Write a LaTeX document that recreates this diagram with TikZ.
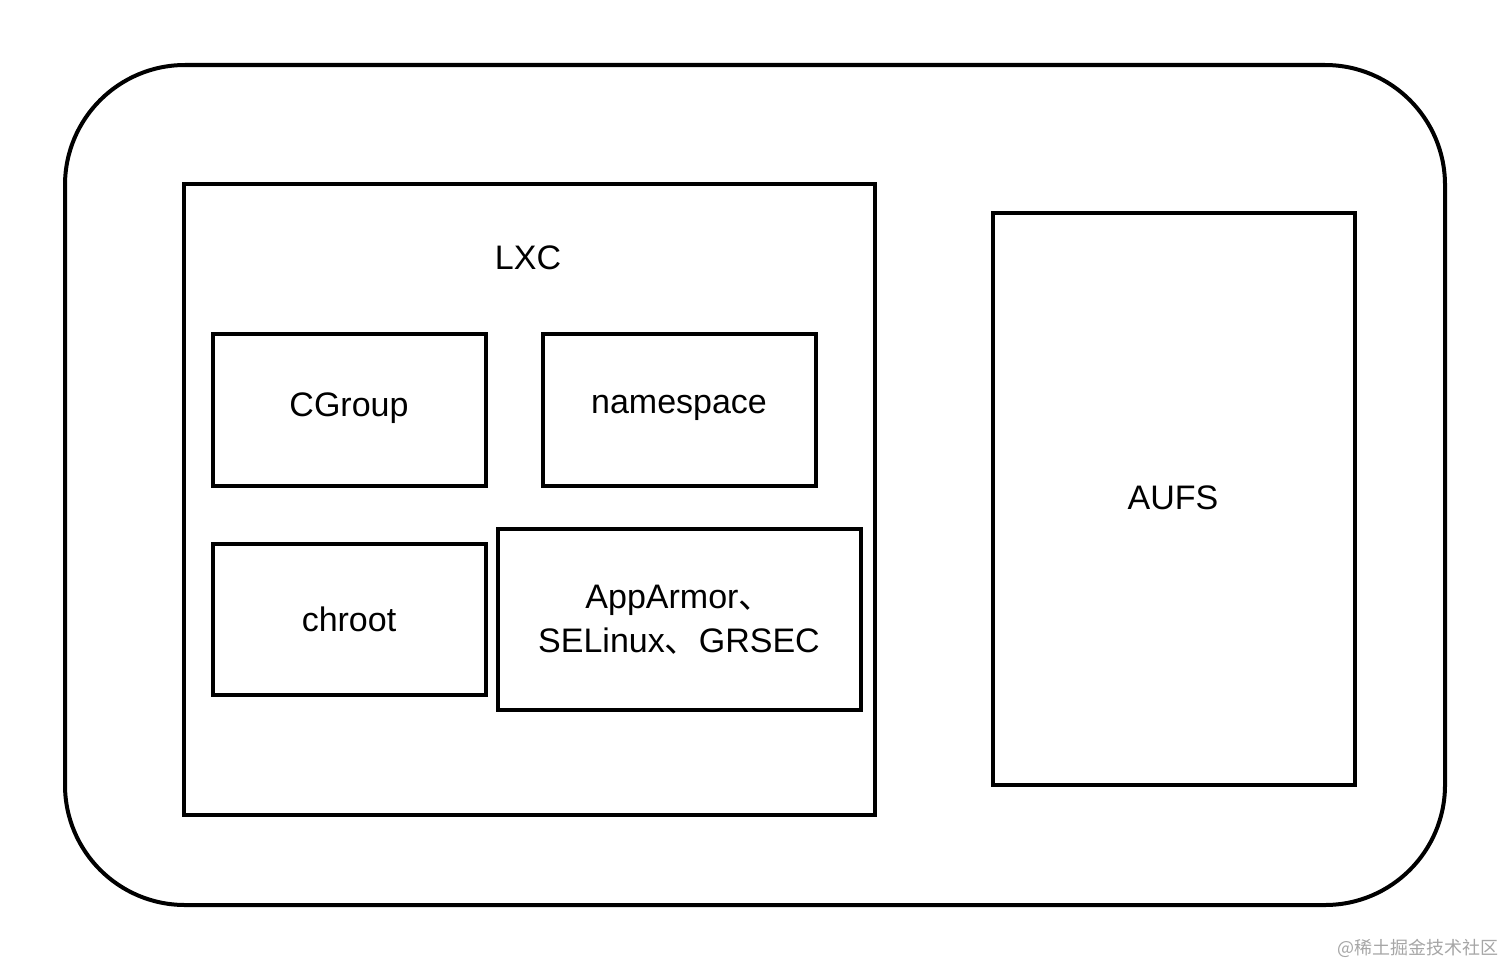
\documentclass[tikz,border=0pt]{standalone}
\usepackage{fontspec}
\setmainfont{Liberation Sans}
\newfontfamily\cjk{Noto Sans CJK SC}
\begin{document}
\begin{tikzpicture}[x=1pt,y=-1pt,
  box/.style={draw,line width=4pt},
  lbl/.style={font=\fontsize{34}{44}\selectfont,align=center}]
\useasboundingbox (0,0) rectangle (1506,966);
\draw[line width=4pt,rounded corners=120pt] (65,65) rectangle (1445,905);
\draw[box] (184,184) rectangle (875,815);
\node[lbl] (lxc) at (528,258) {LXC};
\draw[box] (213,334) rectangle (486,486);
\node[lbl] (cg) at (349,408) {CGroup};
\draw[box] (543,334) rectangle (816,486);
\node[lbl] (ns) at (679,408) {namespace};
\draw[box] (213,544) rectangle (486,695);
\node[lbl] (ch) at (349,619) {chroot};
\draw[box] (498,529) rectangle (861,710);
\node[lbl] (aa) at (679,620) {AppArmor{\cjk 、}\\SELinux{\cjk 、}GRSEC};
\draw[box] (993,213) rectangle (1355,785);
\node[lbl] (au) at (1173,498) {AUFS};
\node[font=\fontsize{18}{20}\selectfont\cjk,text=gray!70,anchor=east] (wm) at (1502,948) {@稀土掘金技术社区};
\end{tikzpicture}
\end{document}
